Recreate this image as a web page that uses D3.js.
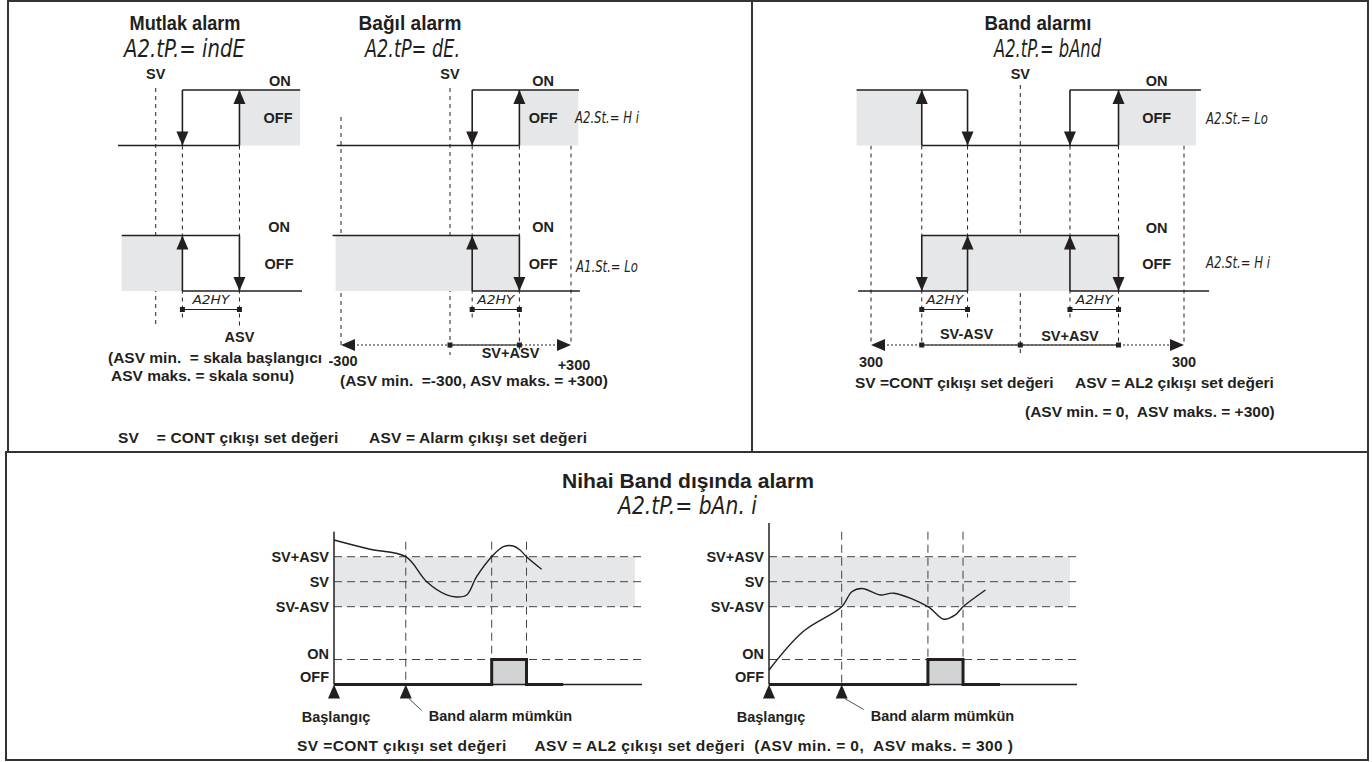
<!DOCTYPE html>
<html>
<head>
<meta charset="utf-8">
<script src="https://cdn.jsdelivr.net/npm/d3@7"></script>
<style>
  body { margin: 0; background: #fff; }
  svg { display: block; }
  text { font-family: "Liberation Sans", Arial, sans-serif; font-weight: bold; fill: #231f20; }
  text.seg { font-family: "DejaVu Sans", sans-serif; font-weight: 200; font-style: italic; }
</style>
</head>
<body>
<div id="chart"></div>
<script>
// --- Data (schematic values) ---
// top panels: switching points on the process value axis
const mutlakPts = { sv: 20.5, hyLow: 35, asv: 66 };          // 0 = skala başlangıcı, 100 = skala sonu
const bagilPts = { min: -300, sv: 0, hyLow: 55, asv: 172, max: 300 };
const bandPts = { min: -300, lo: -198, loHy: -106, sv: 0, hiHy: 91, hi: 180, max: 300 };

// bottom panels: process value curve over time (value in ASV units around SV)
const bandLevels = [
  { name: "SV+ASV", v: 1 },
  { name: "SV", v: 0 },
  { name: "SV-ASV", v: -1 },
];
const curveLeft = [
  [0, 1.67], [11.7, 1.3], [23.3, 1], [30.1, 0], [36.6, -0.53], [39.8, -0.61], [43.1, -0.53],
  [46.3, 0.2], [51.2, 1], [55, 1.4], [58.2, 1.43], [60.4, 1.27], [62.5, 1], [67.4, 0.5],
];
const curveRight = [
  [0, -3.53], [11, -2.0], [23.6, -1.0], [26.9, -0.4], [30.2, -0.27], [36.1, -0.53], [40.5, -0.46],
  [51.6, -1.0], [56.7, -1.5], [60.5, -1.33], [63, -1.0], [70.3, -0.33],
];
const timeMarksLeft = [23.3, 51.2, 62.5];   // band alarm mümkün, alarm ON, alarm OFF
const timeMarksRight = [23.6, 51.6, 63];

const W = 1372, H = 762;
const ink = "#231f20", shade = "#e6e7e8", pulseFill = "#d1d3d4";
const fs = 14.5;      // small bold labels
const note = 15.5;    // footnotes

const svg = d3.select("#chart").append("svg").attr("width", W).attr("height", H);

// --- Frames ---
svg.append("rect").attr("x", 8).attr("y", 1).attr("width", 1360).attr("height", 451)
  .attr("fill", "none").attr("stroke", "#333").attr("stroke-width", 2);
svg.append("line").attr("x1", 752).attr("x2", 752).attr("y1", 1).attr("y2", 452)
  .attr("stroke", "#333").attr("stroke-width", 2);
svg.append("rect").attr("x", 6).attr("y", 452).attr("width", 1362).attr("height", 308)
  .attr("fill", "none").attr("stroke", "#333").attr("stroke-width", 2);

// --- helpers ---
function label(g, x, y, txt, size, anchor) {
  return g.append("text").attr("x", x).attr("y", y).attr("font-size", size)
    .attr("text-anchor", anchor || "middle").style("white-space", "pre").text(txt);
}
function fit(t, len) {
  return t.attr("textLength", len).attr("lengthAdjust", "spacingAndGlyphs");
}
function seg(g, x, y, txt, size, len, anchor) {
  const t = g.append("text").attr("class", "seg").attr("x", x).attr("y", y)
    .attr("font-size", size).attr("text-anchor", anchor || "start").text(txt);
  if (len) fit(t, len);
  return t;
}
function dashV(g, x, y1, y2) {
  g.append("line").attr("x1", x).attr("x2", x).attr("y1", y1).attr("y2", y2)
    .attr("stroke", ink).attr("stroke-width", 1).attr("stroke-dasharray", "4,4");
}
function triangle(g, x, y, dir, w, h) {
  // dir: up / down (tip at y), left / right (tip at x)
  let p;
  if (dir === "up") p = [[x, y], [x - w / 2, y + h], [x + w / 2, y + h]];
  else if (dir === "down") p = [[x, y], [x - w / 2, y - h], [x + w / 2, y - h]];
  else if (dir === "left") p = [[x, y], [x + w, y - h / 2], [x + w, y + h / 2]];
  else p = [[x, y], [x - w, y - h / 2], [x - w, y + h / 2]];
  g.append("path").attr("d", d3.line()(p) + "Z").attr("fill", ink);
}

// relay row: ON / OFF levels
const rows = [
  d3.scaleLinear().domain([0, 1]).range([145.5, 90]),
  d3.scaleLinear().domain([0, 1]).range([291, 235.5]),
];

function relay(g, x, ys, spec) {
  spec.shade.forEach(([a, b]) => {
    g.append("rect").attr("x", x(a)).attr("y", ys(1)).attr("width", x(b) - x(a))
      .attr("height", ys(0) - ys(1)).attr("fill", shade);
  });
  spec.lines.forEach(([a, b, s]) => {
    g.append("line").attr("x1", x(a)).attr("x2", x(b)).attr("y1", ys(s)).attr("y2", ys(s))
      .attr("stroke", ink).attr("stroke-width", 1.6);
  });
  spec.arrows.forEach(([a, dir]) => {
    g.append("line").attr("x1", x(a)).attr("x2", x(a)).attr("y1", ys(0)).attr("y2", ys(1))
      .attr("stroke", ink).attr("stroke-width", 1.6);
    triangle(g, x(a), dir === "up" ? ys(1) : ys(0), dir, 12, 14);
  });
}
function hyst(g, x, a, b) {
  const y = 309.5;
  g.append("line").attr("x1", x(a)).attr("x2", x(b)).attr("y1", y).attr("y2", y)
    .attr("stroke", ink).attr("stroke-width", 1);
  [a, b].forEach(v => g.append("rect").attr("x", x(v) - 2.5).attr("y", y - 2.5)
    .attr("width", 5).attr("height", 5).attr("fill", ink));
  seg(g, (x(a) + x(b)) / 2, 304, "A2HY", 11.5, 37, "middle");
}
function range(g, x, lo, hi, solidA, solidB, squares) {
  const y = 345;
  g.append("line").attr("x1", x(lo) + 12).attr("x2", x(hi) - 12).attr("y1", y).attr("y2", y)
    .attr("stroke", ink).attr("stroke-width", 1).attr("stroke-dasharray", "2,2");
  g.append("line").attr("x1", x(solidA)).attr("x2", x(solidB)).attr("y1", y).attr("y2", y)
    .attr("stroke", "#555").attr("stroke-width", 1.6);
  triangle(g, x(lo), y, "left", 14, 12);
  triangle(g, x(hi), y, "right", 14, 12);
  squares.forEach(v => g.append("rect").attr("x", x(v) - 2.5).attr("y", y - 2.5)
    .attr("width", 5).attr("height", 5).attr("fill", ink));
}

// --- Mutlak alarm ---
{
  const g = svg.append("g");
  const p = mutlakPts;
  const x = d3.scaleLinear().domain([0, 100]).range([118, 302]);
  fit(label(g, 185, 30, "Mutlak alarm", 20), 111);
  seg(g, 124, 57, "A2.tP.= indE", 24, 121);
  label(g, x(p.sv), 79, "SV", fs);
  dashV(g, x(p.sv), 88, 328);
  dashV(g, x(p.hyLow), 145.5, 318);
  dashV(g, x(p.asv), 145.5, 328);
  relay(g, x, rows[0], {
    shade: [[p.asv, 99]],
    lines: [[0, p.asv, 0], [p.hyLow, 99, 1]],
    arrows: [[p.hyLow, "down"], [p.asv, "up"]],
  });
  relay(g, x, rows[1], {
    shade: [[2, p.hyLow]],
    lines: [[2, p.asv, 1], [p.hyLow, 100, 0]],
    arrows: [[p.hyLow, "up"], [p.asv, "down"]],
  });
  label(g, x(88), 86, "ON", fs); label(g, x(87), 123, "OFF", fs);
  label(g, x(87.5), 232, "ON", fs); label(g, x(87.5), 269, "OFF", fs);
  hyst(g, x, p.hyLow, p.asv);
  label(g, x(p.asv), 342, "ASV", fs);
  label(g, 108, 363, "(ASV min.  = skala başlangıcı", note, "start");
  label(g, 111, 381, "ASV maks. = skala sonu)", note, "start");
}

// --- Bağıl alarm ---
{
  const g = svg.append("g");
  const p = bagilPts;
  const x = d3.scaleLinear().domain([-300, 0, 300]).range([341, 450, 571]);
  fit(label(g, 410, 30, "Bağıl alarm", 20), 103);
  seg(g, 365, 57, "A2.tP= dE.", 24, 95);
  label(g, x(p.sv), 79, "SV", fs);
  dashV(g, x(p.min), 117, 345);
  dashV(g, x(p.sv), 88, 355);
  dashV(g, x(p.hyLow), 145.5, 318);
  dashV(g, x(p.asv), 145.5, 350);
  dashV(g, x(p.max), 145.5, 345);
  relay(g, x, rows[0], {
    shade: [[p.asv, 318]],
    lines: [[-312, p.asv, 0], [p.hyLow, 320, 1]],
    arrows: [[p.hyLow, "down"], [p.asv, "up"]],
  });
  relay(g, x, rows[1], {
    shade: [[-315, p.asv]],
    lines: [[-323, p.asv, 1], [p.hyLow, 322, 0]],
    arrows: [[p.hyLow, "up"], [p.asv, "down"]],
  });
  label(g, x(231), 86, "ON", fs); label(g, x(231), 123, "OFF", fs);
  label(g, x(231), 232, "ON", fs); label(g, x(231), 269, "OFF", fs);
  seg(g, 575, 123, "A2.St.= H i", 15, 64);
  seg(g, 576, 272, "A1.St.= Lo", 15, 62);
  hyst(g, x, p.hyLow, p.asv);
  range(g, x, p.min, p.max, p.sv, p.asv, [p.sv, p.asv]);
  label(g, x(p.min) + 2, 366, "-300", fs);
  label(g, x(150), 358, "SV+ASV", fs);
  label(g, x(p.max) + 3, 370, "+300", fs);
  label(g, 340, 386, "(ASV min.  =-300, ASV maks. = +300)", note, "start");
}

// --- footnote top-left ---
fit(label(svg, 118, 443, "SV    = CONT çıkışı set değeri       ASV = Alarm çıkışı set değeri", note, "start"), 469)
  .attr("lengthAdjust", "spacing");

// --- Band alarmı ---
{
  const g = svg.append("g");
  const p = bandPts;
  const x = d3.scaleLinear().domain([-300, 0, 300]).range([871, 1020.3, 1184]);
  fit(label(g, 1038, 30, "Band alarmı", 20), 107);
  seg(g, 994, 57, "A2.tP.= bAnd", 24, 107);
  label(g, x(p.sv), 79, "SV", fs);
  dashV(g, x(p.min), 145.5, 345);
  dashV(g, x(p.lo), 145.5, 345);
  dashV(g, x(p.loHy), 145.5, 318);
  dashV(g, x(p.sv), 85, 356);
  dashV(g, x(p.hiHy), 145.5, 318);
  dashV(g, x(p.hi), 145.5, 345);
  dashV(g, x(p.max), 145.5, 345);
  relay(g, x, rows[0], {
    shade: [[-329, p.lo], [p.hi, 322]],
    lines: [[-329, p.loHy, 1], [p.lo, p.hi, 0], [p.hiHy, 331, 1]],
    arrows: [[p.lo, "up"], [p.loHy, "down"], [p.hiHy, "down"], [p.hi, "up"]],
  });
  relay(g, x, rows[1], {
    shade: [[p.lo, p.hi]],
    lines: [[p.lo, p.hi, 1], [-326, p.loHy, 0], [p.hiHy, 346, 0]],
    arrows: [[p.lo, "down"], [p.loHy, "up"], [p.hiHy, "up"], [p.hi, "down"]],
  });
  label(g, x(250), 86, "ON", fs); label(g, x(250), 123, "OFF", fs);
  label(g, x(250), 233, "ON", fs); label(g, x(250), 269, "OFF", fs);
  seg(g, 1206, 124, "A2.St.= Lo", 15, 62);
  seg(g, 1206, 268, "A2.St.= H i", 15, 64);
  hyst(g, x, p.lo, p.loHy);
  hyst(g, x, p.hiHy, p.hi);
  range(g, x, p.min, p.max, p.lo, p.hi, [p.lo, p.sv, p.hi]);
  label(g, x(-108), 339, "SV-ASV", fs);
  label(g, x(p.hiHy), 341, "SV+ASV", fs);
  label(g, x(p.min), 367, "300", fs);
  label(g, x(p.max), 367, "300", fs);
  label(g, 855, 388, "SV =CONT çıkışı set değeri", note, "start");
  label(g, 1075, 388, "ASV = AL2 çıkışı set değeri", note, "start");
  label(g, 1025, 417, "(ASV min. = 0,  ASV maks. = +300)", note, "start");
}

// --- Nihai Band dışında alarm ---
fit(label(svg, 688, 488, "Nihai Band dışında alarm", 21), 252);
seg(svg, 618, 514, "A2.tP.= bAn. i", 24, 139);

const yVal = d3.scaleLinear().domain([-1, 1]).range([606.7, 556.7]);
const yOut = d3.scaleLinear().domain([0, 1]).range([684.5, 659.5]);

function bandChart(x0, x1, curve, marks, axisTop, markTop, outEnd, leader) {
  const g = svg.append("g");
  const x = d3.scaleLinear().domain([0, 100]).range([x0, x1]);
  // shaded band
  g.append("rect").attr("x", x(0)).attr("y", yVal(1)).attr("width", x(97.7) - x(0))
    .attr("height", yVal(-1) - yVal(1)).attr("fill", shade);
  // level lines
  const hDash = (yy) => g.append("line").attr("x1", x(0)).attr("x2", x(100)).attr("y1", yy).attr("y2", yy)
    .attr("stroke", "#444").attr("stroke-width", 1).attr("stroke-dasharray", "8,5");
  bandLevels.forEach(d => {
    hDash(yVal(d.v));
    label(g, x0 - 5, yVal(d.v) + 5, d.name, fs, "end");
  });
  hDash(yOut(1));
  label(g, x0 - 5, yOut(1) - 1, "ON", fs, "end");
  label(g, x0 - 5, yOut(0) - 3, "OFF", fs, "end");
  // vertical time marks
  marks.forEach(t => g.append("line").attr("x1", x(t)).attr("x2", x(t))
    .attr("y1", yVal(markTop)).attr("y2", yOut(0))
    .attr("stroke", "#444").attr("stroke-width", 1).attr("stroke-dasharray", "8,5"));
  // output pulse
  g.append("rect").attr("x", x(marks[1])).attr("y", yOut(1)).attr("width", x(marks[2]) - x(marks[1]))
    .attr("height", yOut(0) - yOut(1)).attr("fill", pulseFill);
  // axes
  g.append("line").attr("x1", x0).attr("x2", x0).attr("y1", yVal(axisTop)).attr("y2", yOut(0))
    .attr("stroke", ink).attr("stroke-width", 1.5);
  g.append("line").attr("x1", x0).attr("x2", x(100)).attr("y1", yOut(0)).attr("y2", yOut(0))
    .attr("stroke", ink).attr("stroke-width", 1.5);
  g.append("path")
    .attr("d", d3.line()([[x(0), yOut(0)], [x(marks[1]), yOut(0)], [x(marks[1]), yOut(1)],
      [x(marks[2]), yOut(1)], [x(marks[2]), yOut(0)], [x(outEnd), yOut(0)]]))
    .attr("fill", "none").attr("stroke", ink).attr("stroke-width", 3);
  // process value curve
  g.append("path")
    .attr("d", d3.line().x(d => x(d[0])).y(d => yVal(d[1])).curve(d3.curveCatmullRom.alpha(0.5))(curve))
    .attr("fill", "none").attr("stroke", ink).attr("stroke-width", 1.4);
  // start / enable markers
  triangle(g, x(0), yOut(0), "up", 12, 14);
  triangle(g, x(marks[0]), yOut(0), "up", 12, 14);
  g.append("line").attr("x1", x(marks[0]) + 3).attr("y1", yOut(0) + 14)
    .attr("x2", x(marks[0]) + leader[0]).attr("y2", yOut(0) + leader[1])
    .attr("stroke", ink).attr("stroke-width", 0.8);
  label(g, x(0) + 2, 722, "Başlangıç", fs);
  label(g, x(marks[0]) + leader[0] + 7, 721, "Band alarm mümkün", fs, "start");
}
bandChart(334, 642, curveLeft, timeMarksLeft, 2.0, 1.6, 74.4, [16, 26]);
bandChart(769, 1077, curveRight, timeMarksRight, 2.35, 2.0, 75, [22, 25]);

fit(label(svg, 297, 751, "SV =CONT çıkışı set değeri      ASV = AL2 çıkışı set değeri  (ASV min. = 0,  ASV maks. = 300 )", note, "start"), 716)
  .attr("lengthAdjust", "spacing");
</script>
</body>
</html>
